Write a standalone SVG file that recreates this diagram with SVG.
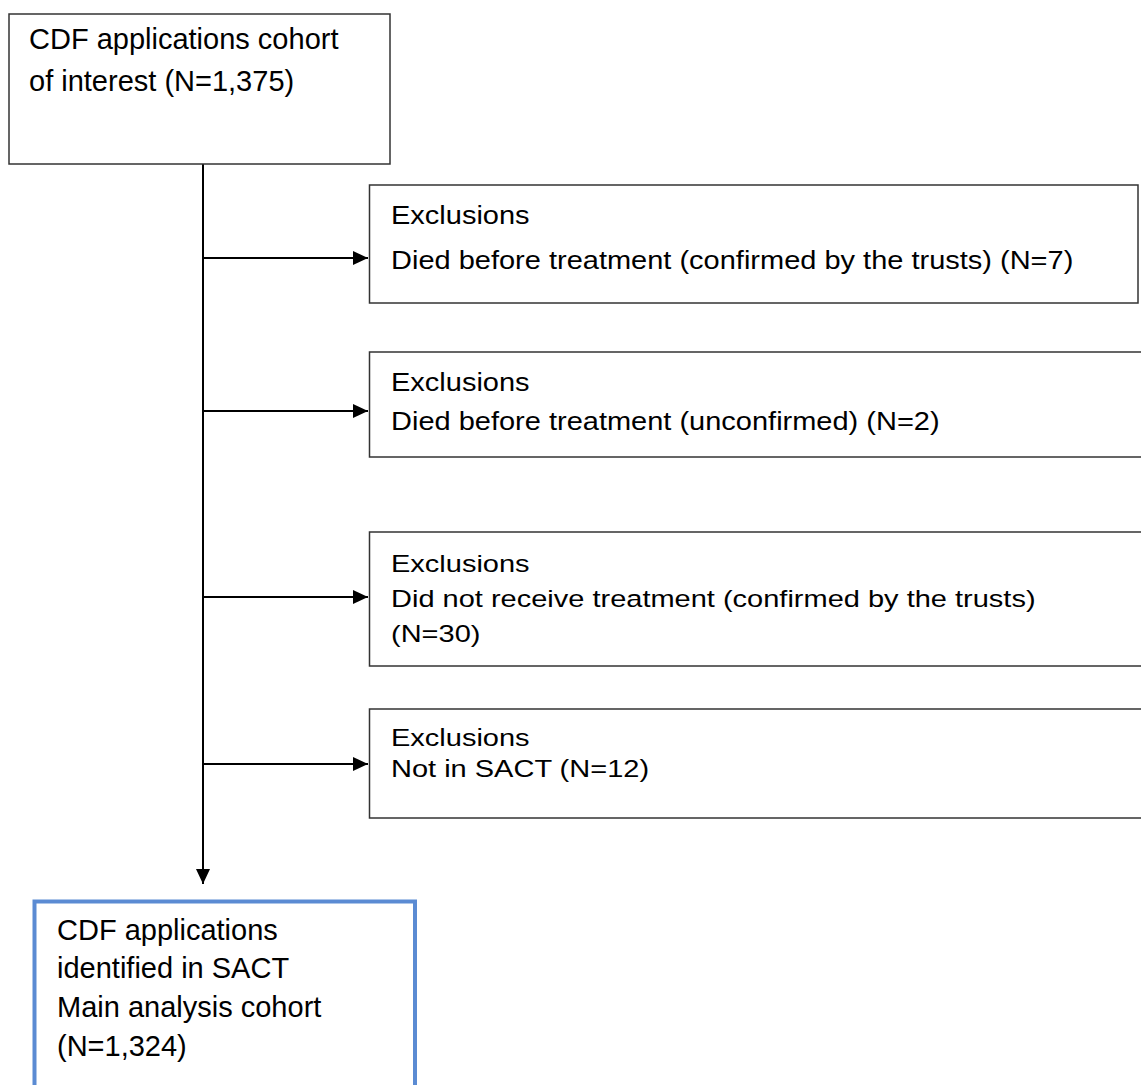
<svg xmlns="http://www.w3.org/2000/svg" width="1141" height="1085" viewBox="0 0 1141 1085">
<style>
.box{fill:#fff;stroke:#333;stroke-width:1.5}
.t{font-family:"Liberation Sans",Arial,sans-serif;font-size:29px;fill:#000}
.c{stroke:#000;stroke-width:2;fill:none}
</style>
<defs>
<marker id="ah" markerWidth="16" markerHeight="14" refX="15" refY="7" orient="auto" markerUnits="userSpaceOnUse">
<path d="M0,0 L15,7 L0,14 Z" fill="#000"/>
</marker>
</defs>
<rect width="1141" height="1085" fill="#fff"/>
<g id="connectors">
<line class="c" x1="203" y1="164" x2="203" y2="884" marker-end="url(#ah)"/>
<line class="c" x1="203" y1="258" x2="368" y2="258" marker-end="url(#ah)"/>
<line class="c" x1="203" y1="411" x2="368" y2="411" marker-end="url(#ah)"/>
<line class="c" x1="203" y1="597" x2="368" y2="597" marker-end="url(#ah)"/>
<line class="c" x1="203" y1="764" x2="368" y2="764" marker-end="url(#ah)"/>
</g>
<g id="cohort">
<rect class="box" x="9" y="14" width="381" height="150"/>
<text class="t" x="29" y="49">CDF applications cohort</text>
<text class="t" x="29" y="91">of interest (N=1,375)</text>
</g>
<g id="excl1">
<rect class="box" x="369.5" y="185" width="768.5" height="118"/>
<text class="t" transform="translate(391,224) scale(1,0.9)">Exclusions</text>
<text class="t" transform="translate(391,269) scale(1,0.9)">Died before treatment (confirmed by the trusts) (N=7)</text>
</g>
<g id="excl2">
<rect class="box" x="369.5" y="352" width="800" height="105"/>
<text class="t" transform="translate(391,391) scale(1,0.9)">Exclusions</text>
<text class="t" transform="translate(391,430) scale(1,0.9)">Died before treatment (unconfirmed) (N=2)</text>
</g>
<g id="excl3">
<rect class="box" x="369.5" y="532" width="800" height="134"/>
<text class="t" transform="translate(391,572) scale(1,0.85)">Exclusions</text>
<text class="t" transform="translate(391,607) scale(1,0.85)">Did not receive treatment (confirmed by the trusts)</text>
<text class="t" transform="translate(391,642) scale(1,0.85)">(N=30)</text>
</g>
<g id="excl4">
<rect class="box" x="369.5" y="709" width="800" height="109"/>
<text class="t" transform="translate(391,746) scale(1,0.8)">Exclusions</text>
<text class="t" transform="translate(391,777) scale(1,0.8)">Not in SACT (N=12)</text>
</g>
<g id="main">
<rect x="34.5" y="901.5" width="380.5" height="220" fill="#fff" stroke="#5B8BD3" stroke-width="4"/>
<text class="t" x="57" y="940">CDF applications</text>
<text class="t" x="57" y="978">identified in SACT</text>
<text class="t" x="57" y="1017">Main analysis cohort</text>
<text class="t" x="57" y="1056">(N=1,324)</text>
</g>
</svg>
